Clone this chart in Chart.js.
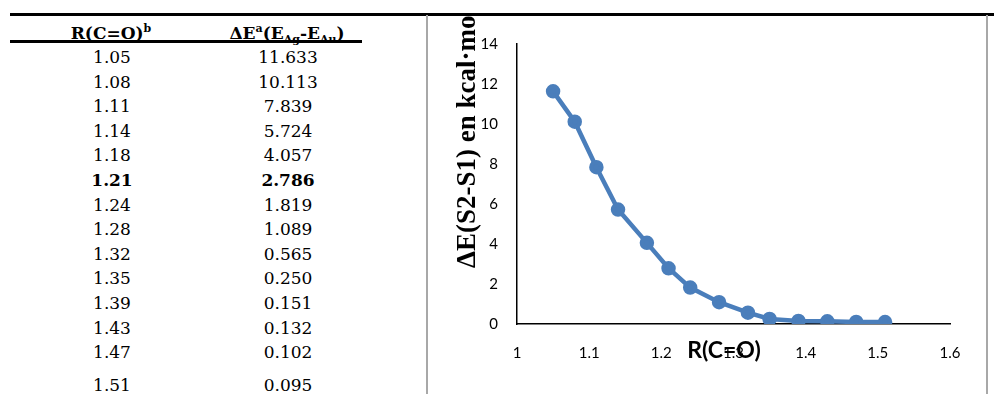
<!DOCTYPE html>
<html>
<head>
<meta charset="utf-8">
<script src="https://cdn.jsdelivr.net/npm/chart.js@4.4.0/dist/chart.umd.min.js"></script>
<style>
  html, body { margin:0; padding:0; background:#fff; }
  #page { position:relative; width:994px; height:394px; overflow:hidden; background:#fff; }
  .rule { position:absolute; background:#000; }
  .cell { position:absolute; width:140px; margin-left:-70px; text-align:center; font-family:"DejaVu Serif", serif; font-size:17px; line-height:20px; color:#000; white-space:nowrap; }
  .cell.hd { font-weight:bold; width:200px; margin-left:-100px; }
  .cell sup { font-size:11px; vertical-align:7px; line-height:0; }
  .cell sub { font-size:11px; vertical-align:-4px; line-height:0; }
  .bold { font-weight:bold; }
  #box { position:absolute; left:426px; top:15px; width:558px; height:379px; border-left:2px solid #a8a8a8; border-right:2px solid #a8a8a8; }
  #cv { position:absolute; left:428px; top:16px; }
  #ytitleClip { position:absolute; left:428px; top:16px; width:70px; height:378px; overflow:hidden; }
  #ytitle { position:absolute; left:19px; top:252px; transform-origin:left top; transform:rotate(-90deg); white-space:nowrap; font-family:"Liberation Serif", "DejaVu Serif", serif; font-weight:bold; font-size:27px; line-height:27px; color:#000; }
  #xtitle { position:absolute; left:724px; top:349px; transform:translate(-50%,-50%); font-family:Lato, sans-serif; font-weight:bold; font-size:23px; color:#000; white-space:nowrap; }
</style>
</head>
<body>
<div id="page">
  <div class="rule" style="left:10px; top:13px; width:984px; height:3px"></div>
  <div class="rule" style="left:10px; top:40px; width:352px; height:2.5px"></div>
  <div id="table"></div>
  <div id="box"></div>
  <canvas id="cv" width="558" height="378"></canvas>
  <div id="ytitleClip"><div id="ytitle">ΔE(S2-S1) en kcal·mol<sup style="font-size:15px">-1</sup></div></div>
  <div id="xtitle">R(C=O)</div>
</div>
<script>
// --- Data ---
const rLabels = ["1.05","1.08","1.11","1.14","1.18","1.21","1.24","1.28","1.32","1.35","1.39","1.43","1.47","1.51"];
const dELabels = ["11.633","10.113","7.839","5.724","4.057","2.786","1.819","1.089","0.565","0.250","0.151","0.132","0.102","0.095"];
const rValues = [1.05,1.08,1.11,1.14,1.18,1.21,1.24,1.28,1.32,1.35,1.39,1.43,1.47,1.51];
const deltaE = [11.633,10.113,7.839,5.724,4.057,2.786,1.819,1.089,0.565,0.250,0.151,0.132,0.102,0.095];
const xTicks = ["1","1.1","1.2","1.3","1.4","1.5","1.6"];
const yTicks = ["0","2","4","6","8","10","12","14"];
const boldRow = "1.21";

// --- Table ---
const table = document.getElementById('table');
function addCell(x, y, html, cls){
  const d = document.createElement('div');
  d.className = 'cell ' + (cls || '');
  d.style.left = x + 'px';
  d.style.top = (y - 10) + 'px';
  d.innerHTML = html;
  table.appendChild(d);
}
addCell(111, 33, 'R(C=O)<sup>b</sup>', 'hd');
addCell(287, 33, 'ΔE<sup>a</sup>(E<sub>Ag</sub>-E<sub>Au</sub>)', 'hd');
rLabels.forEach((r, i) => {
  const y = i < rLabels.length - 1 ? 57 + i * 24.6 : 385;
  const cls = r === boldRow ? 'bold' : '';
  addCell(112, y, r, cls);
  addCell(288, y, dELabels[i], cls);
});

// --- Chart ---
const blue = '#4a7ebb';
const tickFont = { family: 'Lato, sans-serif', size: 15 };
new Chart(document.getElementById('cv'), {
  type: 'scatter',
  data: {
    datasets: [{
      data: rValues.map((x, i) => ({ x, y: deltaE[i] })),
      showLine: true,
      borderColor: blue,
      backgroundColor: blue,
      borderWidth: 4.5,
      pointRadius: 5,
      pointBackgroundColor: blue,
      pointBorderColor: blue,
      tension: 0
    }]
  },
  options: {
    responsive: false,
    devicePixelRatio: 1,
    animation: false,
    layout: { padding: { left: 0, right: 36, top: 23, bottom: 0 } },
    plugins: { legend: { display: false }, tooltip: { enabled: false } },
    scales: {
      x: {
        type: 'linear', min: 1, max: 1.6,
        afterBuildTicks: s => { s.ticks = xTicks.map(t => ({ value: +t })); },
        afterFit: s => { s.height = 70; },
        grid: { display: false, drawTicks: false },
        border: { display: true, color: '#000', width: 1.5 },
        ticks: { color: '#000', font: tickFont, padding: 20, maxRotation: 0,
                 callback: (v, i) => xTicks[i] }
      },
      y: {
        min: 0, max: 14,
        afterBuildTicks: s => { s.ticks = yTicks.map(t => ({ value: +t })); },
        afterFit: s => { s.width = 89; },
        grid: { display: false, drawTicks: false },
        border: { display: true, color: '#000', width: 1.5 },
        ticks: { color: '#000', font: tickFont, padding: 19,
                 callback: (v, i) => yTicks[i] }
      }
    }
  }
});
</script>
</body>
</html>
